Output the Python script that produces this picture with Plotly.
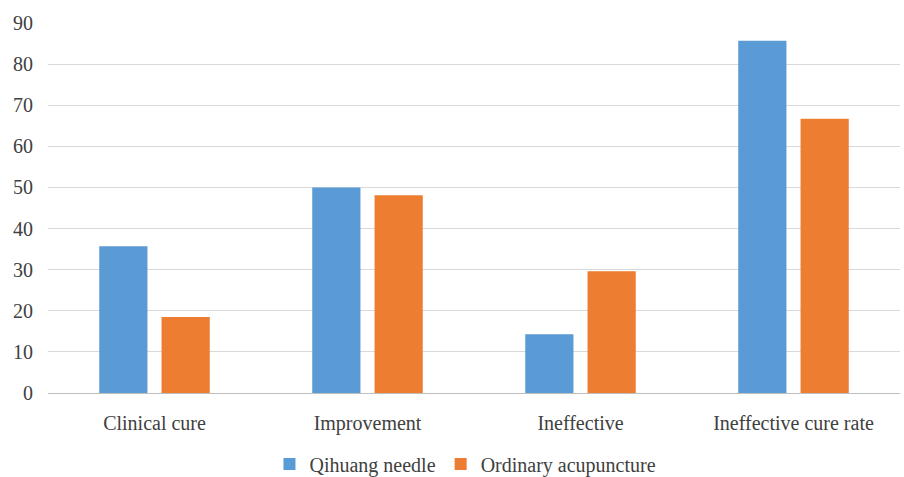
import plotly.graph_objects as go

categories = ["Clinical cure", "Improvement", "Ineffective", "Ineffective cure rate"]
qihuang = [35.7, 50.0, 14.3, 85.7]
ordinary = [18.5, 48.1, 29.6, 66.7]
series_names = ["Qihuang needle", "Ordinary acupuncture"]
yticks = list(range(0, 100, 10))

fam = "Liberation Serif, Times New Roman, serif"
font = dict(family=fam, size=20, color="#404040")

fig = go.Figure()
fig.add_trace(go.Bar(name=series_names[0], x=categories, y=qihuang,
                     marker=dict(color="#5B9BD5", line=dict(width=0))))
fig.add_trace(go.Bar(name=series_names[1], x=categories, y=ordinary,
                     marker=dict(color="#ED7D31", line=dict(width=0))))

fig.update_layout(
    width=904, height=477,
    margin=dict(l=48, r=4, t=23, b=84, autoexpand=False),
    paper_bgcolor="white", plot_bgcolor="white",
    font=font,
    barmode="group", bargap=0.415, bargroupgap=0.226,
    showlegend=True,
    legend=dict(orientation="h", x=0.49, xanchor="center",
                yref="container", y=0.027, yanchor="middle",
                font=dict(family=fam, size=20, color="#404040"),
                itemwidth=30, traceorder="normal", tracegroupgap=0),
    xaxis=dict(showgrid=False, showline=True, linecolor="#bfbfbf", linewidth=1,
               ticks="", ticklabelstandoff=12, tickfont=font),
    yaxis=dict(range=[0, 90], tickvals=yticks, showgrid=True, gridcolor="#d9d9d9",
               gridwidth=1, zeroline=False, showline=False, ticks="",
               ticklabelstandoff=14, tickfont=font),
)

fig.write_html("out.html")
